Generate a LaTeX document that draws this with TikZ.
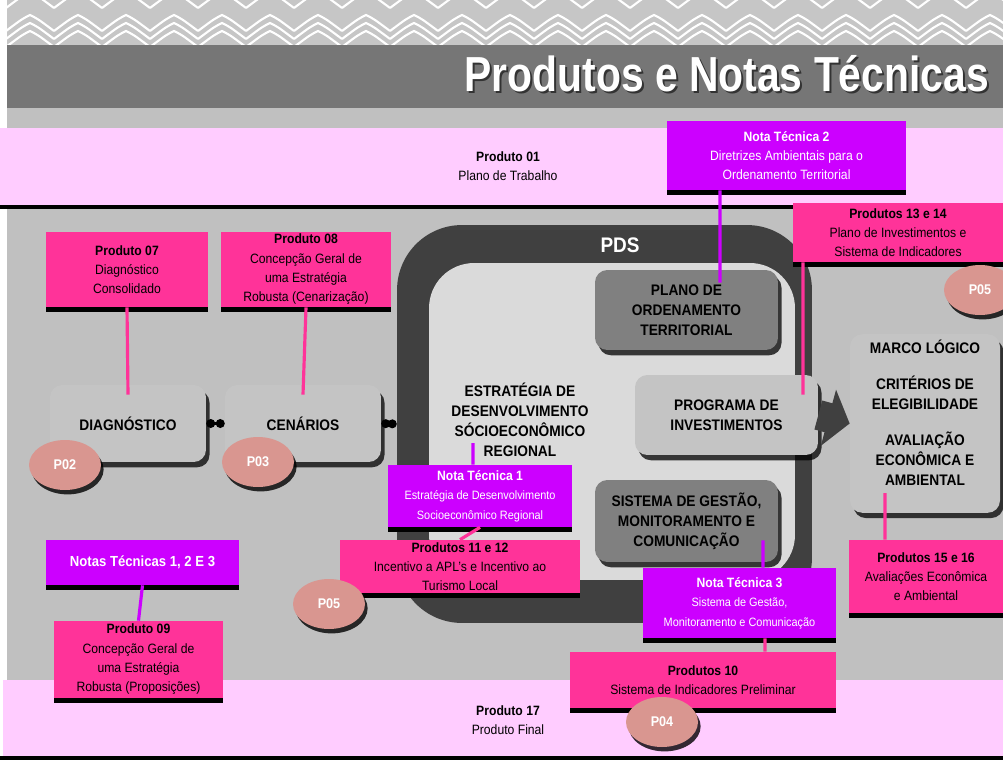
\documentclass[tikz,border=0pt]{standalone}
\usepackage{fontspec}
\setmainfont{Liberation Sans}[FakeStretch=0.9]
\newfontfamily\titlefont{Liberation Sans}[FakeStretch=0.83]
\usetikzlibrary{shapes.geometric,shadows,arrows.meta,positioning}

\definecolor{hotpink}{HTML}{FF3399}
\definecolor{notepurple}{HTML}{CC00FF}
\definecolor{bandpink}{HTML}{FFCCFF}
\definecolor{bggray}{HTML}{C0C0C0}
\definecolor{bandgray}{HTML}{C6C6C6}
\definecolor{headgray}{HTML}{767676}
\definecolor{stagegray}{HTML}{C4C4C4}
\definecolor{darkstage}{HTML}{808080}
\definecolor{framegray}{HTML}{404040}
\definecolor{innergray}{HTML}{DADADA}
\definecolor{tagsalmon}{HTML}{D99690}

\newcommand{\notesmall}{\fontsize{6.9}{9}\selectfont}

\tikzset{
  prodbox/.style={fill=hotpink, align=center, inner sep=1pt,
    font=\fontsize{7.7}{11}\selectfont,
    drop shadow={shadow xshift=0pt, shadow yshift=-3pt, fill=black, opacity=1}},
  notebox/.style={prodbox, fill=notepurple, text=white},
  stagetext/.style={align=center, font=\fontsize{8.7}{11.4}\selectfont\bfseries},
  stagebox/.style={stagetext, rounded corners=7pt, fill=stagegray,
    drop shadow={shadow xshift=2pt, shadow yshift=-3pt, fill=black, opacity=0.75}},
  darkbox/.style={stagebox, fill=darkstage},
  ptag/.style={ellipse, fill=tagsalmon, text=white, inner sep=0pt,
    font=\fontsize{8}{10}\selectfont\bfseries,
    minimum width=1.44cm, minimum height=1cm,
    drop shadow={shadow xshift=1.5pt, shadow yshift=-2.5pt, fill=black, opacity=0.8}},
  pinkline/.style={draw=hotpink, line width=1.8pt},
  noteline/.style={draw=notepurple, line width=1.8pt},
  link/.style={{Circle[length=5pt]}-{Circle[length=5pt]}, line width=1.6pt},
}

\begin{document}
\begin{tikzpicture}[x=0.02cm, y=-0.02cm]
    \useasboundingbox (0,0) rectangle (1003,760);

    \begin{scope}
      \clip (7,0) rectangle (1003,45);
      \fill[bandgray] (7,0) rectangle (1003,45);
      \foreach \i [evaluate=\i as \cx using 30+48*\i] in {0,...,21}{
        \foreach \cy in {-8,15,23,31}{
          \draw[white, line width=1.2pt] (\cx-24,\cy+16) .. controls (\cx-8,\cy+4) .. (\cx,\cy)
            .. controls (\cx+8,\cy+4) .. (\cx+24,\cy+16);
        }
      }
    \end{scope}
    \fill[headgray] (7,45) rectangle (1003,108);
    \fill[bggray] (7,108) rectangle (1003,128);
    \fill[bandpink] (0,128) rectangle (1003,205);
    \fill[black] (0,205) rectangle (1003,209);
    \fill[bggray] (7,209) rectangle (1003,680);
    \fill[bandpink] (3,680) rectangle (1003,756);
    \fill[black] (0,756) rectangle (1003,760);

    \node[text=black!80, anchor=base east,
      font=\titlefont\bfseries\fontsize{28}{30}\selectfont] (titleshade) at (997,94) {Produtos e Notas Técnicas};
    \node[text=white, anchor=base east,
      font=\titlefont\bfseries\fontsize{28}{30}\selectfont] (title) at (995,92) {Produtos e Notas Técnicas};

    \node[align=center, font=\fontsize{7.7}{11}\selectfont] (prod01) at (508,166) {\textbf{Produto 01}\\Plano de Trabalho};
    \node[align=center, font=\fontsize{7.7}{11}\selectfont] (prod17) at (508,720) {\textbf{Produto 17}\\Produto Final};

    \node[rounded corners=1.3cm, fill=framegray,
      minimum width=8.3cm, minimum height=7.96cm] (pds) at (604.5,424) {};
    \node[rounded corners=0.9cm, fill=innergray,
      minimum width=7.32cm, minimum height=6.34cm] (pdsin) at (612,421.5) {};
    \node[text=white, font=\fontsize{12}{14}\selectfont\bfseries] (pdslabel) at (620,245) {PDS};

    \node[stagebox, minimum width=3.12cm, minimum height=1.54cm] (diag) at (128,423.5) {DIAGNÓSTICO};
    \node[stagebox, minimum width=3.12cm, minimum height=1.54cm] (cen) at (303,423.5) {CENÁRIOS};
    \node[darkbox, minimum width=3.66cm, minimum height=1.6cm] (pot) at (686.5,310)
      {PLANO DE\\ORDENAMENTO\\TERRITORIAL};
    \node[stagebox, minimum width=3.66cm, minimum height=1.6cm] (prog) at (726.5,415)
      {PROGRAMA DE\\INVESTIMENTOS};
    \node[darkbox, minimum width=3.66cm, minimum height=1.64cm] (sis) at (686.5,521)
      {SISTEMA DE GESTÃO,\\MONITORAMENTO E\\COMUNICAÇÃO};
    \node[stagetext] (estr) at (520,420)
      {ESTRATÉGIA DE\\DESENVOLVIMENTO\\SÓCIOECONÔMICO\\REGIONAL};
    \node[stagebox, minimum width=3cm, minimum height=3.46cm, text depth=0.43cm] (marco) at (925,423.5)
      {MARCO LÓGICO\\[9pt]CRITÉRIOS DE\\ELEGIBILIDADE\\[9pt]AVALIAÇÃO\\ECONÔMICA E\\AMBIENTAL};

    \draw[-{Triangle[length=0.44cm, width=1.14cm]}, line width=0.6cm, draw=framegray] (prog.east) -- (marco.west);

    \node[notebox, minimum width=4.78cm, minimum height=1.38cm] (nt2) at (786.5,155.5)
      {\textbf{Nota Técnica 2}\\Diretrizes Ambientais para o\\Ordenamento Territorial};
    \node[prodbox, minimum width=4.2cm, minimum height=1.18cm] (p1314) at (898,232.5)
      {\textbf{Produtos 13 e 14}\\Plano de Investimentos e\\Sistema de Indicadores};
    \node[prodbox, minimum width=3.24cm, minimum height=1.5cm] (p07) at (127,269.5)
      {\textbf{Produto 07}\\Diagnóstico\\Consolidado};
    \node[prodbox, minimum width=3.4cm, minimum height=1.5cm] (p08) at (306,269.5)
      {\textbf{Produto 08}\\Concepção Geral de\\uma Estratégia\\Robusta (Cenarização)};
    \node[notebox, minimum width=3.68cm, minimum height=1.24cm] (nt1) at (480,496)
      {\textbf{Nota Técnica 1}\\{\notesmall Estratégia de Desenvolvimento}\\{\notesmall Socioeconômico Regional}};
    \node[prodbox, minimum width=4.8cm, minimum height=1.06cm] (p1112) at (460,566.5)
      {\textbf{Produtos 11 e 12}\\Incentivo a APL’s e Incentivo ao\\Turismo Local};
    \node[notebox, minimum width=3.86cm, minimum height=0.9cm,
      font=\fontsize{8.3}{11}\selectfont\bfseries] (nt123) at (142.5,562.5) {Notas Técnicas 1, 2 E 3};
    \node[prodbox, minimum width=3.38cm, minimum height=1.54cm] (p09) at (138.5,659.5)
      {\textbf{Produto 09}\\Concepção Geral de\\uma Estratégia\\Robusta (Proposições)};
    \node[notebox, minimum width=3.86cm, minimum height=1.4cm] (nt3) at (739.5,603)
      {\textbf{Nota Técnica 3}\\{\notesmall Sistema de Gestão,}\\{\notesmall Monitoramento e Comunicação}};
    \node[prodbox, minimum width=5.32cm, minimum height=1.12cm] (p10) at (703,680)
      {\textbf{Produtos 10}\\Sistema de Indicadores Preliminar};
    \node[prodbox, minimum width=3.08cm, minimum height=1.46cm] (p1516) at (926,576.5)
      {\textbf{Produtos 15 e 16}\\Avaliações Econômica\\e Ambiental};

    \draw[pinkline] (p07.south) -- ([yshift=-0.2cm]diag.north);
    \draw[pinkline] (p08.south) -- ([yshift=-0.2cm]cen.north);
    \draw[noteline] ([xshift=-1.33cm]nt2.south) -- ([xshift=0.67cm, yshift=-0.26cm]pot.north);
    \draw[pinkline] ([xshift=-1.9cm]p1314.south) -- ([xshift=1.53cm, yshift=-0.4cm]prog.north);
    \draw[noteline] ([xshift=-0.94cm, yshift=0.4cm]estr.south) -- ([xshift=-0.14cm]nt1.north);
    \draw[pinkline] (nt1.south) -- (p1112.north);
    \draw[noteline] (nt123.south) -- (p09.north);
    \draw[noteline] ([xshift=1.53cm, yshift=0.44cm]sis.south) -- ([xshift=0.47cm]nt3.north);
    \draw[pinkline] ([xshift=0.51cm]nt3.south) -- ([xshift=1.24cm]p10.north);
    \draw[pinkline] ([xshift=-0.8cm, yshift=0.4cm]marco.south) -- ([xshift=-0.82cm]p1516.north);

    \draw[link] (diag.east) -- (cen.west);
    \draw[link] (cen.east) -- (pds.west);

    \node[ptag] (p02) at (65,465) {P02};
    \node[ptag] (p03) at (258,462) {P03};
    \node[ptag] (p05a) at (329,604) {P05};
    \node[ptag] (p04) at (662,722) {P04};
    \node[ptag] (p05b) at (980,290) {P05};
\end{tikzpicture}
\end{document}
